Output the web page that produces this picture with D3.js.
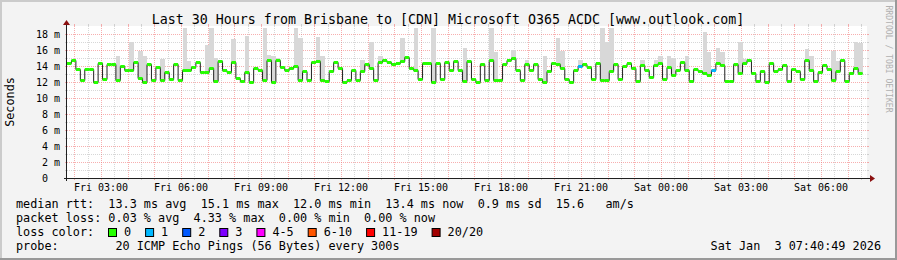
<!DOCTYPE html>
<html><head><meta charset="utf-8">
<script src="https://cdn.jsdelivr.net/npm/d3@7"></script>
<style>
html,body{margin:0;padding:0;background:#f3f3f3;}
svg{display:block;}
text{font-family:"DejaVu Sans Mono",monospace;fill:#000;white-space:pre;}
</style></head><body>
<svg id="c" width="897" height="260"></svg>
<script>
// ---- data ----
const title = "Last 30 Hours from Brisbane to [CDN] Microsoft O365 ACDC [www.outlook.com]";
// median RTT in ms, one value per 10-minute step
const median = [
14.4,14.7,13.6,12.2,13.6,13.6,12.0,14.4,12.4,14.2,
14.2,12.2,14.0,13.5,13.5,14.5,12.5,12.0,14.3,12.3,
13.9,12.2,13.3,12.4,14.3,12.2,13.5,13.5,13.9,14.5,
13.2,13.3,13.8,12.1,14.6,13.5,13.2,14.5,12.5,12.1,
13.3,12.0,13.7,13.5,12.2,14.7,12.0,14.7,13.9,13.5,
13.8,14.0,12.3,13.4,12.2,14.5,14.6,12.3,12.1,13.4,
14.5,13.7,12.0,12.2,13.5,12.3,13.4,14.3,13.7,12.2,
14.5,14.8,14.5,14.2,14.4,14.6,15.1,13.7,13.5,12.4,
14.4,14.4,12.0,14.4,12.4,14.5,13.5,14.6,13.5,12.1,
14.6,12.4,12.0,14.3,12.2,14.7,12.3,12.3,14.3,14.8,
15.0,13.5,12.2,14.3,13.5,14.3,12.4,12.0,13.4,14.4,
14.2,13.7,12.4,12.0,13.5,14.0,14.3,13.9,12.4,14.4,
12.2,12.3,13.4,14.3,12.4,14.0,14.4,13.7,12.1,14.1,
13.5,12.6,14.1,14.4,12.4,13.9,12.9,13.5,14.5,13.5,
12.1,13.6,13.4,13.1,12.9,13.5,14.4,14.1,12.1,12.1,
14.2,13.1,14.4,14.75,13.1,12.1,13.4,12.0,14.4,13.4,
13.6,14.1,12.1,13.6,13.4,12.4,14.75,13.5,12.1,13.3,
14.1,13.6,12.2,13.4,14.75,12.1,13.1,13.7,13.1
];
// samples with packet loss (index, lost pings)
const lossIdx = [115, 145];
const lossLevel = [1, 1];
// smoke spikes: sample index and highest ping (ms)
const spikeIdx = [11,14,16,17,21,26,27,31,32,33,37,40,44,45,46,47,51,52,56,57,66,68,70,75,78,82,89,95,96,100,103,107,110,111,115,120,121,122,129,132,133,135,136,139,143,144,146,147,151,152,166,167,172,173,177,178];
const spikeTop = [15.2,17.0,15.9,15.3,14.9,18.7,14.6,16.6,18.8,15.0,17.4,17.7,18.7,15.4,15.3,15.0,18.7,17.5,17.6,15.2,14.8,17.0,15.2,17.5,18.8,18.8,16.2,18.8,15.7,16.0,14.7,15.3,17.5,15.9,14.7,18.7,17.0,18.7,14.7,14.7,15.3,15.3,15.0,15.2,18.3,15.8,16.3,15.7,17.0,14.9,16.1,15.2,15.9,14.6,17.0,16.9];
const yTicks = [0,2,4,6,8,10,12,14,16,18];
const yTickLabels = ["0  ","2 m","4 m","6 m","8 m","10 m","12 m","14 m","16 m","18 m"];
const xTickLabels = ["Fri 03:00","Fri 06:00","Fri 09:00","Fri 12:00","Fri 15:00","Fri 18:00","Fri 21:00","Sat 00:00","Sat 03:00","Sat 06:00"];
const lossLegend = ["0","1","2","3","4-5","6-10","11-19","20/20"];
const lossColors = ["#26ff00","#00b8ff","#0059ff","#7e00ff","#ff00ff","#ff5500","#ff0000","#a10000"];
const rttStats = ["13.3 ms avg","15.1 ms max","12.0 ms min","13.4 ms now","0.9 ms sd","15.6   am/s"];
const lossStats = ["0.03 % avg","4.33 % max","0.00 % min","0.00 % now"];
const probeText = "20 ICMP Echo Pings (56 Bytes) every 300s";
const stampText = "Sat Jan  3 07:40:49 2026";

// ---- layout ----
const W = 897, H = 260;
const X0 = 67, X1 = 867, Y0 = 178, Y1 = 26;
const stepMs = 600 * 1000;
const tStart = Date.UTC(2026,0,2,1,43,30);
const tEnd = tStart + 30*3600*1000;
const svg = d3.select("#c");

const x = d3.scaleUtc().domain([tStart, tEnd]).range([X0, X1]);
const y = d3.scaleLinear().domain([0, 19]).range([Y0, Y1]);

// background + 3D border
svg.append("rect").attr("width",W).attr("height",H).attr("fill","#f3f3f3");
svg.append("path").attr("d",`M0,0H${W}V2H2V${H}H0Z`).attr("fill","#cbcbcb");
svg.append("path").attr("d",`M${W},${H}H0V${H-2}H${W-2}V0H${W}Z`).attr("fill","#999999");

// canvas
svg.append("rect").attr("x",X0).attr("y",Y1).attr("width",X1-X0).attr("height",Y0-Y1).attr("fill","#ffffff");

const minorC = "rgba(140,140,140,0.35)", majorC = "rgba(240,110,110,0.55)";
const g = svg.append("g").attr("shape-rendering","crispEdges");

// smoke
const smoke = svg.append("g").attr("shape-rendering","crispEdges");
spikeIdx.forEach((idx, k) => {
  const t0 = tStart + idx*stepMs;
  smoke.append("rect")
    .attr("x", x(t0)).attr("width", x(t0+stepMs)-x(t0))
    .attr("y", y(spikeTop[k])).attr("height", y(median[idx]) - y(spikeTop[k]))
    .attr("fill","#d8d8d8");
});

// grid
const minorT = d3.utcMinute.every(30).range(tStart, tEnd).filter(t => t.getUTCMinutes() === 30);
const majorT = d3.utcHour.range(tStart, tEnd);
function vgrid(times, col){
  times.forEach(t => {
    const px = Math.round(x(t)) + 0.5;
    g.append("line").attr("x1",px).attr("x2",px).attr("y1",Y1).attr("y2",Y0)
      .attr("stroke",col).attr("stroke-dasharray","1,1");
    g.append("line").attr("x1",px).attr("x2",px).attr("y1",Y0).attr("y2",Y0+2).attr("stroke",col);
    g.append("line").attr("x1",px).attr("x2",px).attr("y1",Y1-2).attr("y2",Y1).attr("stroke",col);
  });
}
function hgrid(vals, col){
  vals.forEach(v => {
    const py = Math.round(y(v)) + 0.5;
    g.append("line").attr("x1",X0).attr("x2",X1).attr("y1",py).attr("y2",py)
      .attr("stroke",col).attr("stroke-dasharray","1,1");
    g.append("line").attr("x1",X0-2).attr("x2",X0).attr("y1",py).attr("y2",py).attr("stroke",col);
    g.append("line").attr("x1",X1).attr("x2",X1+2).attr("y1",py).attr("y2",py).attr("stroke",col);
  });
}
vgrid(minorT, minorC);
vgrid(majorT, majorC);
hgrid(d3.range(1,19,2), minorC);
hgrid(yTicks.filter(v => v > 0), majorC);

// median line
const pts = median.map((v,i) => ({t: tStart + i*stepMs, v}));
pts.push({t: tStart + median.length*stepMs, v: median[median.length-1]});
svg.append("path").datum(pts)
  .attr("d", d3.line().x(d => x(d.t)).y(d => Math.round(y(d.v))+0.5).curve(d3.curveStepAfter))
  .attr("fill","none").attr("stroke","#202020").attr("stroke-width",1);

// loss coloured median markers
const lossOf = i => { const k = lossIdx.indexOf(i); return k < 0 ? 0 : lossLevel[k]; };
svg.append("g").selectAll("rect").data(median).join("rect")
  .attr("x", (v,i) => x(tStart + i*stepMs))
  .attr("width", (v,i) => x(tStart+(i+1)*stepMs) - x(tStart+i*stepMs))
  .attr("y", v => Math.round(y(v)) - 1)
  .attr("height", 3)
  .attr("fill", (v,i) => lossColors[lossOf(i)]);

// axes
const ax = svg.append("g").attr("shape-rendering","crispEdges");
ax.append("line").attr("x1",X0-3).attr("x2",X1+4).attr("y1",Y0+0.5).attr("y2",Y0+0.5).attr("stroke","#202020");
ax.append("line").attr("x1",X0-0.5).attr("x2",X0-0.5).attr("y1",Y0+3).attr("y2",Y1-4).attr("stroke","#202020");
svg.append("path").attr("d",`M${X1+3},${Y0-3}L${X1+8},${Y0+0.5}L${X1+3},${Y0+4}Z`).attr("fill","#8b1010");
svg.append("path").attr("d",`M${X0-4},${Y1-1}L${X0-0.5},${Y1-6}L${X0+3},${Y1-1}Z`).attr("fill","#8b1010");

// y tick labels
svg.append("g").selectAll("text").data(yTicks).join("text")
  .attr("x", 60).attr("y", d => y(d)).attr("dy","0.35em")
  .attr("text-anchor","end").attr("font-size","10px")
  .text((d,i) => yTickLabels[i]);

// x tick labels
const xTickTimes = xTickLabels.map((s,i) => Date.UTC(2026,0,2,3) + i*3*3600*1000);
svg.append("g").selectAll("text").data(xTickTimes).join("text")
  .attr("x", d => x(d)).attr("y", 190.5)
  .attr("text-anchor","middle").attr("font-size","10px")
  .text((d,i) => xTickLabels[i]);

// title
svg.append("text").attr("x",448).attr("y",23.5).attr("text-anchor","middle")
  .attr("font-size","13.3px").text(title);

// y-axis title
svg.append("text").attr("transform","translate(14,102) rotate(-90)")
  .attr("text-anchor","middle").attr("font-size","11.8px").text("Seconds");

// watermark
svg.append("text").attr("transform","translate(886,59) rotate(90)")
  .attr("text-anchor","middle").attr("font-size","8.1px")
  .style("fill","#b0b0b0").text("RRDTOOL / TOBI OETIKER");

// legend
const fs = "11.8px";
svg.append("text").attr("x",16).attr("y",207.5).attr("font-size",fs)
  .text("median rtt:  " + rttStats.join("  "));
svg.append("text").attr("x",16).attr("y",221.5).attr("font-size",fs)
  .text("packet loss: " + lossStats.join("  "));
svg.append("text").attr("x",16).attr("y",235.5).attr("font-size",fs)
  .text("loss color:");
let cx = 108;
lossLegend.forEach((lab, k) => {
  svg.append("rect").attr("x",cx+0.5).attr("y",228.5).attr("width",8).attr("height",8)
    .attr("fill",lossColors[k]).attr("stroke","#000").attr("stroke-width",1);
  svg.append("text").attr("x",cx+16).attr("y",235.5).attr("font-size",fs).text(lab);
  cx += 30 + 7.1*lab.length;
});
svg.append("text").attr("x",16).attr("y",249.5).attr("font-size",fs)
  .text("probe:        " + probeText);
svg.append("text").attr("x",881).attr("y",249.5).attr("font-size",fs)
  .attr("text-anchor","end").text(stampText);
</script>
</body></html>
